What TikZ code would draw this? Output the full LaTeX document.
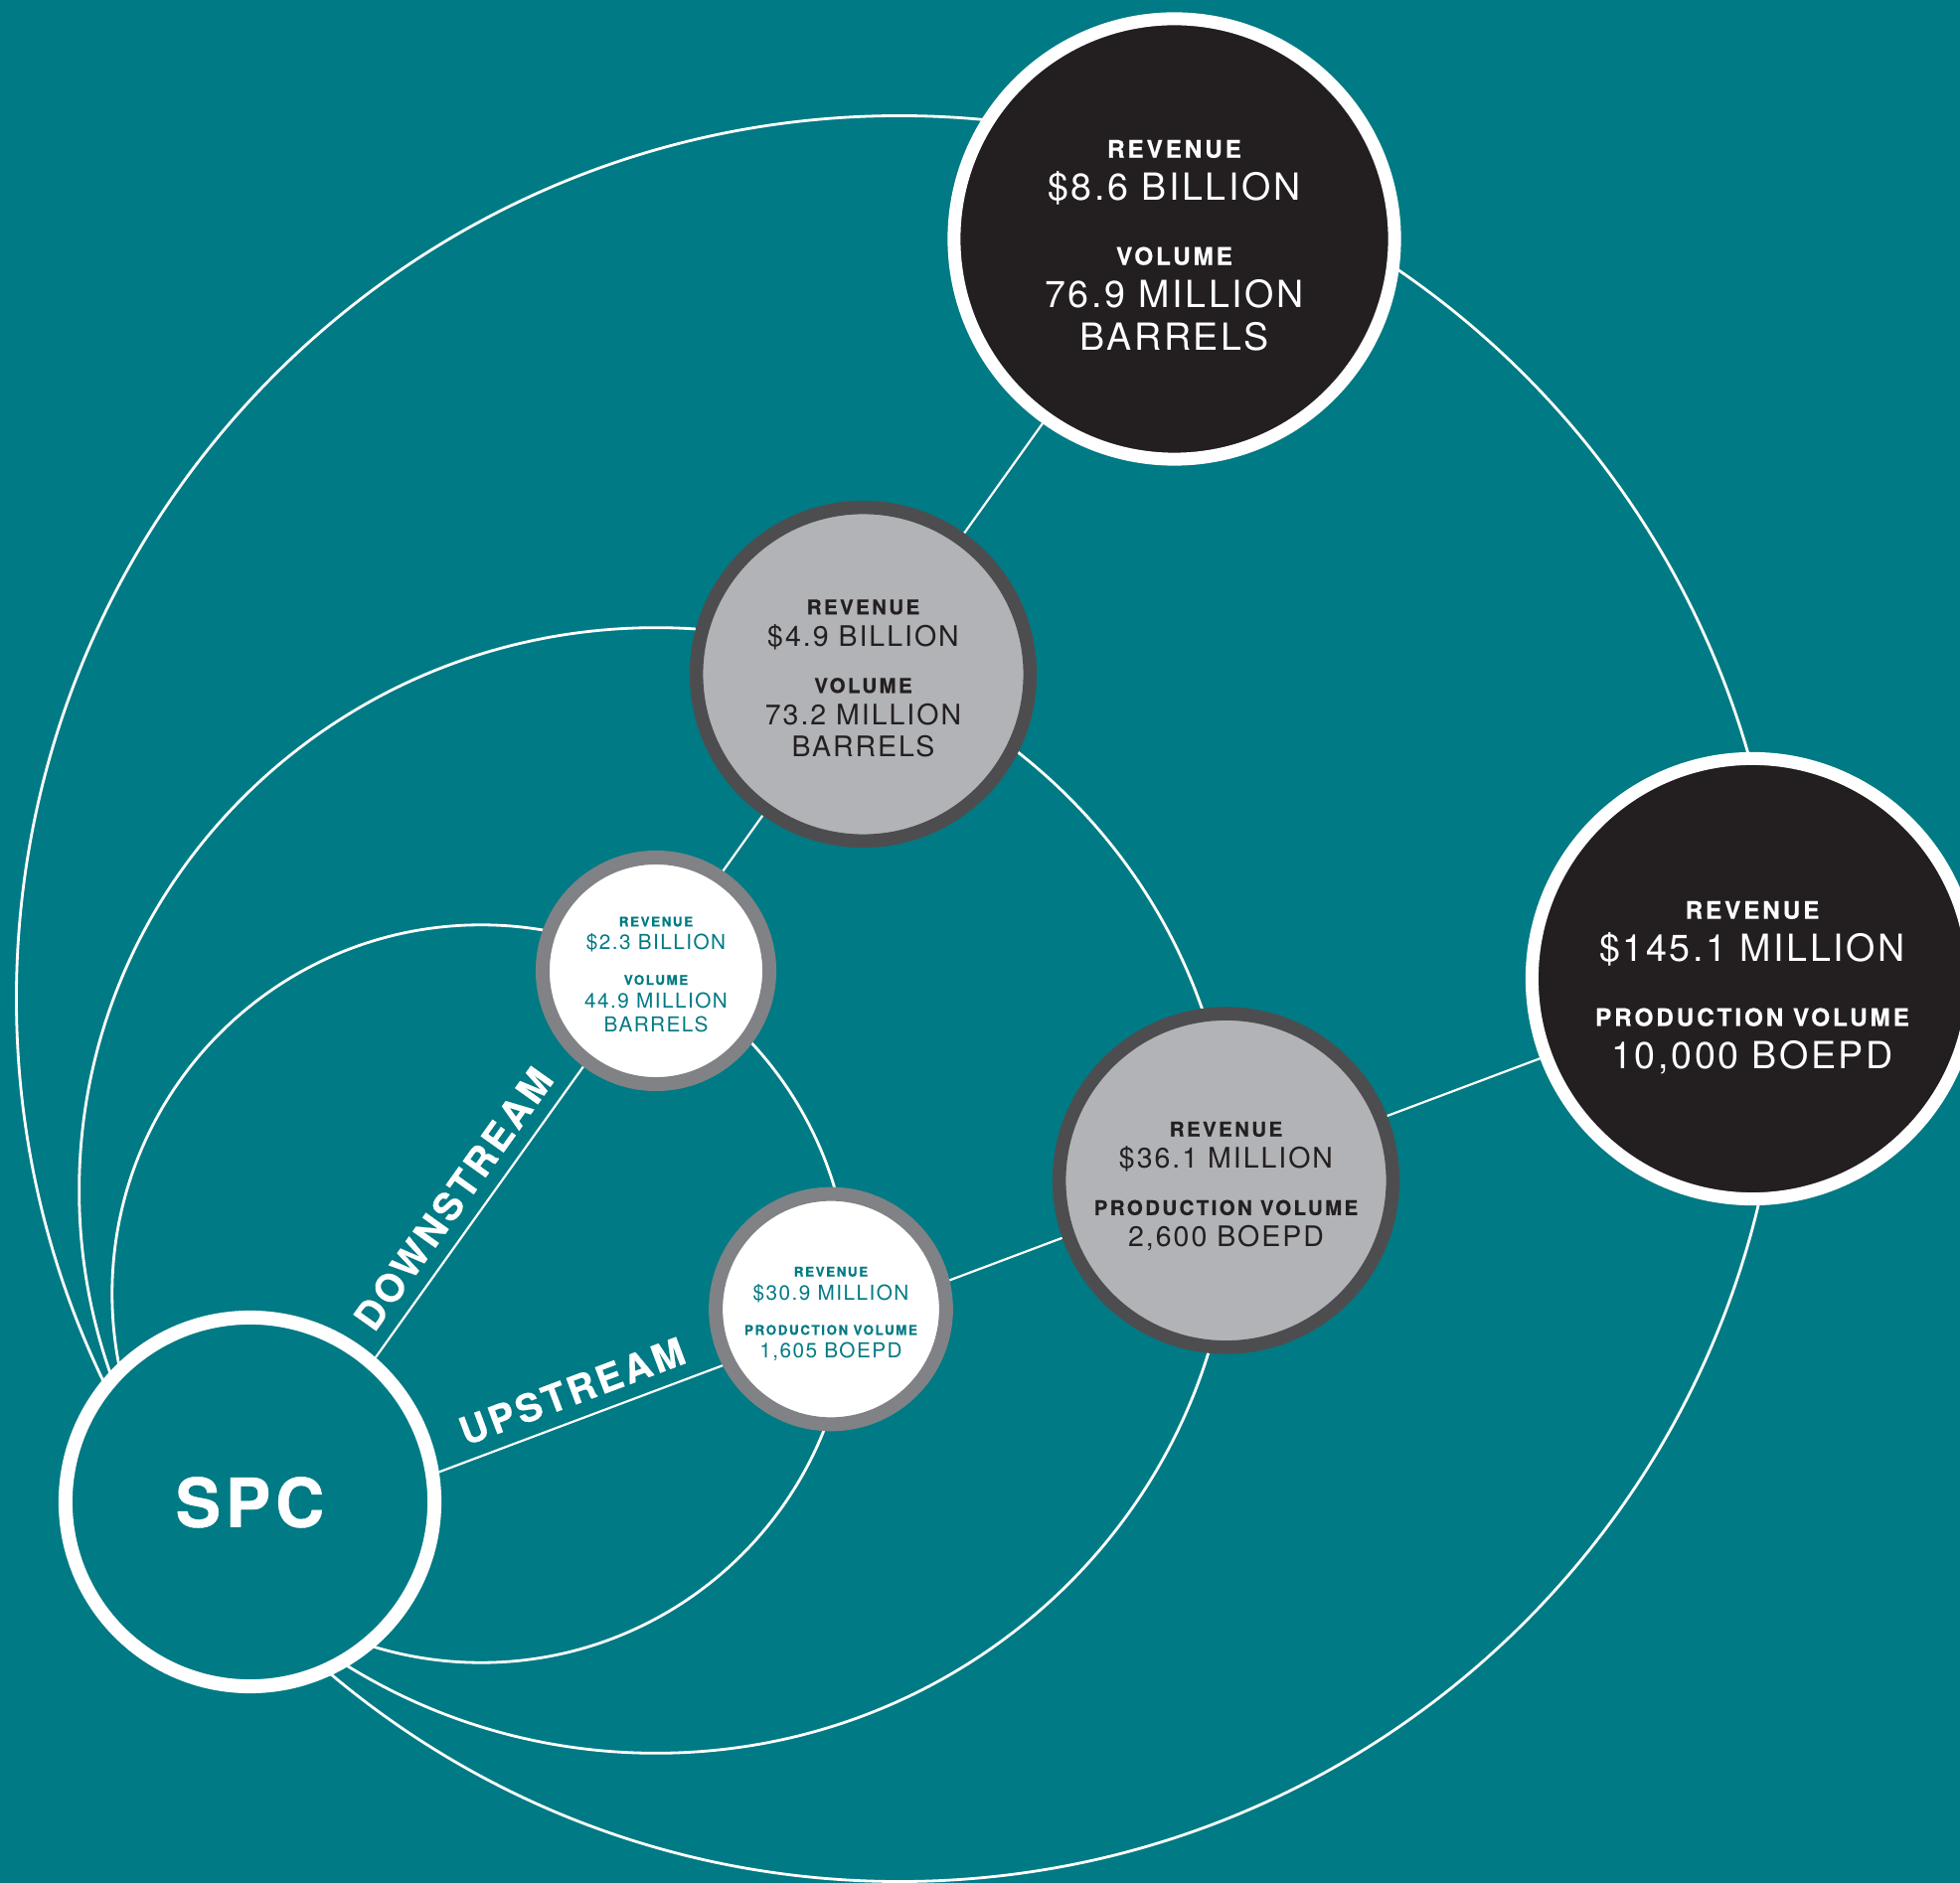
\documentclass[tikz,border=0pt]{standalone}
\usepackage{fontspec}
\setmainfont{TeX Gyre Heros}
\newfontfamily\valfont[LetterSpace=7]{TeX Gyre Heros}
\newfontfamily\lblfont[LetterSpace=12,BoldFeatures={FakeBold=0.6}]{TeX Gyre Heros}
\newfontfamily\namefont[LetterSpace=7,BoldFeatures={FakeBold=0.6}]{TeX Gyre Heros}
\newfontfamily\streamfont[LetterSpace=8,BoldFeatures={FakeBold=0.6}]{TeX Gyre Heros}
\usetikzlibrary{positioning}

\definecolor{sea}{RGB}{0,122,132}
\definecolor{ink}{HTML}{231F20}
\definecolor{stone}{HTML}{B1B3B6}
\definecolor{slate}{HTML}{4D4D4F}
\definecolor{ash}{HTML}{808285}

\pgfdeclarelayer{back}
\pgfsetlayers{back,main}

\newcommand{\bighead}[1]{\rule{0pt}{0.30cm}{\lblfont\bfseries\fontsize{6.9}{6.9}\selectfont #1}}
\newcommand{\midhead}[1]{\rule{0pt}{0.225cm}{\lblfont\bfseries\fontsize{5.8}{5.8}\selectfont #1}}
\newcommand{\smallhead}[1]{\rule{0pt}{0.165cm}{\lblfont\bfseries\fontsize{3.8}{3.8}\selectfont #1}}

\begin{document}
\begin{tikzpicture}[x=0.01cm, y=-0.01cm,
    big_node/.style={circle, draw=white, fill=ink, text=white, line width=0.13cm, minimum size=4.43cm, align=center, text depth=0pt, font=\valfont\fontsize{10.7}{12.2}\selectfont},
    mid_node/.style={circle, draw=slate, fill=stone, text=ink, line width=0.135cm, minimum size=3.355cm, align=center, text depth=0pt, font=\valfont\fontsize{8.1}{9.1}\selectfont},
    small_node/.style={circle, draw=ash, fill=white, text=sea, line width=0.14cm, minimum size=2.28cm, align=center, text depth=0pt, font=\valfont\fontsize{5.9}{6.7}\selectfont},
    spc_node/.style={circle, draw=white, fill=sea, text=white, line width=0.14cm, minimum size=3.71cm, text depth=0pt, font=\namefont\bfseries\fontsize{19.4}{20}\selectfont},
    arc_line/.style={draw=white, line width=0.028cm},
    link_line/.style={draw=white, line width=0.022cm},
    stream_lbl/.style={text=white, sloped, anchor=south, inner xsep=0pt, inner ysep=0.14cm, text depth=0pt, font=\streamfont\bfseries\fontsize{11}{11}\selectfont}]

    \useasboundingbox (0,0) rectangle (1972,1895);

    \node[spc_node] (spc) at (251.5,1511.5) {SPC};
    \node[small_node] (w1) at (660,977) {\smallhead{REVENUE}\\ \$2.3 BILLION\\[0.115cm] \smallhead{VOLUME}\\ 44.9 MILLION\\ BARRELS};
    \node[small_node] (w2) at (836,1317.5) {\smallhead{REVENUE}\\ \$30.9 MILLION\\[0.115cm] \smallhead{PRODUCTION VOLUME}\\ 1,605 BOEPD};
    \node[mid_node] (g1) at (868.5,678.5) {\midhead{REVENUE}\\ \$4.9 BILLION\\[0.15cm] \midhead{VOLUME}\\ 73.2 MILLION\\ BARRELS};
    \node[mid_node] (g2) at (1233.5,1188) {\midhead{REVENUE}\\ \$36.1 MILLION\\[0.15cm] \midhead{PRODUCTION VOLUME}\\ 2,600 BOEPD};
    \node[big_node] (b1) at (1181.5,240.5) {\bighead{REVENUE}\\ \$8.6 BILLION\\[0.22cm] \bighead{VOLUME}\\ 76.9 MILLION\\ BARRELS};
    \node[big_node] (b2) at (1763,985) {\bighead{REVENUE}\\ \$145.1 MILLION\\[0.22cm] \bighead{PRODUCTION VOLUME}\\ 10,000 BOEPD};

    \begin{pgfonlayer}{back}
    \fill[sea] (0,0) rectangle (1972,1895);

    % rings through each tier
    \draw[arc_line] (484,1302) circle [radius=3.71cm];
    \draw[arc_line] (660,1198) ellipse [x radius=5.8cm, y radius=5.66cm];
    \draw[arc_line] (905,1005) circle [radius=8.88cm];

    \draw[link_line] (spc.49) -- (b1) node[stream_lbl, pos=0.152] {DOWNSTREAM};
    \draw[link_line] (spc.9) -- (b2) node[stream_lbl, pos=0.13] {UPSTREAM};
    \end{pgfonlayer}

\end{tikzpicture}
\end{document}
